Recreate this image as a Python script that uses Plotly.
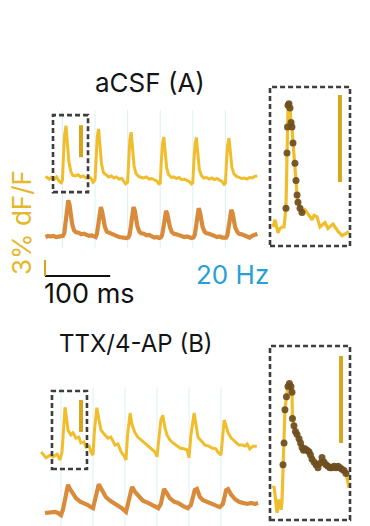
import plotly.graph_objects as go

W, H = 370, 526

# ---------------- data ----------------
stim_times_ms = [0, 50, 100, 150, 200, 250]  # 20 Hz stimulation

# aCSF (A) - voltage indicator trace (gold), dF/F in %
a_top_t = [-26, -23, -20, -17, -13, -9, -5, -2,
           0, 1.5, 3.5, 5.5, 7.5, 10, 13, 16, 20, 24, 28, 32, 36, 40, 44, 47,
           50, 51.5, 53.5, 55.5, 57.5, 60, 63, 67, 71, 75, 79, 83, 87, 91, 94, 97,
           100, 101.5, 103.5, 105.5, 107.5, 110, 113, 117, 121, 125, 129, 133, 137, 141, 145, 148,
           150, 151.5, 153.5, 155.5, 157.5, 160, 163, 167, 171, 175, 179, 183, 187, 191, 195, 198,
           200, 201.5, 203.5, 205.5, 207.5, 210, 213, 217, 221, 225, 229, 233, 237, 241, 245, 248,
           250, 251.5, 253.5, 255.5, 257.5, 260, 263, 267, 271, 275, 279, 283, 287, 291, 295, 299]
a_top_v = [0.3, 0.1, -0.2, 0.1, -0.3, 0.2, -0.6, -0.9,
           -0.5, 3.8, 8.2, 9.8, 6.8, 3.0, 1.2, 0.5, 0.4, 0.6, 0.2, 0.4, 0.0, 0.3, -0.1, -0.8,
           -0.4, 3.6, 7.8, 9.2, 6.2, 2.6, 1.0, 0.6, 0.2, 0.4, 0.0, 0.2, -0.2, -0.1, -0.6, -1.1,
           -0.8, 3.2, 7.3, 8.6, 5.8, 2.2, 0.8, 0.3, 0.1, 0.0, 0.2, -0.2, -0.1, -0.4, -0.6, -1.1,
           -1.0, 2.6, 6.3, 7.7, 5.0, 1.8, 0.6, 0.1, 0.2, -0.1, 0.1, -0.3, -0.2, -0.5, -0.7, -1.1,
           -0.9, 2.8, 6.4, 7.6, 5.0, 1.6, 0.5, 0.0, 0.1, -0.2, 0.0, -0.3, -0.1, -0.4, -0.7, -1.2,
           -1.0, 2.6, 6.2, 7.5, 5.2, 2.0, 0.8, 0.3, 0.1, -0.1, 0.0, -0.2, 0.1, 0.0, 0.3, 0.4]

# aCSF (A) - second trace (orange)
a_bot_t = [-26, -22, -18, -14, -10, -6, -2,
           1, 3, 5, 7, 9, 11, 13, 15, 18, 21, 25, 29, 33, 37, 41, 45, 48,
           51, 53, 55, 57, 59, 61, 63, 65, 68, 71, 75, 79, 83, 87, 91, 95, 98,
           101, 103, 105, 107, 109, 111, 113, 115, 118, 121, 125, 129, 133, 137, 141, 145, 148,
           151, 153, 155, 157, 159, 161, 163, 165, 168, 171, 175, 179, 183, 187, 191, 195, 198,
           201, 203, 205, 207, 209, 211, 213, 215, 218, 221, 225, 229, 233, 237, 241, 245, 248,
           251, 253, 255, 257, 259, 261, 263, 265, 268, 271, 275, 279, 283, 287, 291, 295, 299]
a_bot_v = [0.0, 0.2, 0.1, 0.2, 0.0, 0.1, 0.2,
           0.2, 0.8, 3.0, 5.6, 6.9, 6.0, 4.0, 2.4, 1.2, 0.9, 0.8, 0.5, 0.6, 0.3, 0.2, 0.3, 0.1,
           0.0, 0.6, 2.4, 4.6, 5.6, 4.8, 3.2, 2.0, 1.0, 0.8, 0.6, 0.4, 0.2, 0.0, -0.1, 0.0, -0.2,
           -0.1, 0.4, 2.0, 4.4, 5.6, 5.0, 3.4, 2.0, 1.0, 0.7, 0.6, 0.3, 0.4, 0.1, -0.1, 0.0, -0.2,
           -0.1, 0.4, 1.8, 3.8, 4.9, 4.3, 3.0, 1.8, 0.9, 0.6, 0.5, 0.3, 0.2, 0.0, 0.1, -0.1, -0.2,
           -0.1, 0.4, 2.0, 4.2, 5.4, 4.7, 3.2, 1.9, 1.0, 0.7, 0.6, 0.3, 0.2, 0.0, 0.1, -0.1, -0.1,
           -0.1, 0.3, 1.8, 4.0, 5.1, 4.5, 3.0, 1.8, 1.0, 0.6, 0.5, 0.3, 0.0, -0.1, 0.2, 0.5, 0.6]

# TTX/4-AP (B) - gold trace
b_top_t = [-31, -23.4, -17, -12.5, -6, -1.6, 1.6, 3.9, 6.3, 8.6, 11, 15.6, 18.8, 23.4, 28, 31, 36, 39, 44, 47,
           50, 52.3, 56, 59.4, 62.5, 67, 73.4, 78, 84.4, 89, 94, 98,
           101.6, 104, 108, 111, 115.6, 120, 125, 130, 134, 139, 144, 147,
           150, 153, 156, 159, 162.5, 165.6, 170, 175, 181, 186, 192, 197,
           200, 203, 208, 211, 214, 219, 225, 231, 236, 242, 245,
           250, 252, 255, 258, 261, 266, 272, 278, 283, 287.5, 291, 295, 300, 306]
b_top_v = [0, -1.1, -0.6, -0.9, -0.4, -1.5, 0, 5.1, 8.4, 6.4, 4.1, 3.2, 3.6, 2.6, 2.8, 1.7, 1.9, 0.9, 1.1, 0,
           -0.6, 4.1, 8.3, 6.0, 4.1, 3.4, 2.6, 2.8, 1.3, 1.5, 0, -0.6,
           -1.5, 3.2, 7.3, 5.1, 3.6, 2.8, 2.3, 1.7, 1.3, 0.75, 0.4, 0,
           -0.9, 2.3, 6.0, 6.9, 4.5, 3.2, 2.3, 1.7, 1.1, 0.75, 0.6, 0.4,
           -1.1, 3.2, 7.3, 5.1, 2.8, 2.1, 1.3, 1.1, 0.75, 0.6, 0,
           -0.6, 2.6, 6.0, 4.9, 3.6, 2.6, 1.9, 1.3, 1.3, 1.1, 1.5, 0.6, 1.1, 1.1]

# TTX/4-AP (B) - orange trace
b_bot_t = [-25, -17, -9.4, -4.7, 0, 3, 6.3, 11, 14, 19, 23.4, 30, 36, 42, 47, 50, 55, 59, 64, 70,
           77, 83, 89, 95, 101.6, 106, 111, 116, 122, 128, 136, 144, 152, 156, 161, 166, 170, 177, 183, 191,
           198, 203, 209, 212.5, 217, 222, 228, 234, 242, 248, 253, 258, 261, 266, 272, 278, 284, 291, 297, 303, 308]
b_bot_v = [0, 0.2, 0.2, 0, -0.4, 0.6, 3.0, 5.3, 4.5, 3.6, 2.8, 2.1, 1.9, 1.5, 1.1, 0.9, 3.4, 5.4, 4.3, 3.0,
           2.3, 1.9, 1.3, 0.9, 0.2, 2.8, 4.9, 3.9, 3.0, 2.3, 1.9, 1.3, 0.9, 1.7, 4.5, 3.6, 2.8, 2.1, 1.9, 1.3,
           0.9, 1.5, 4.3, 4.5, 3.0, 2.4, 2.1, 1.9, 1.3, 1.1, 1.7, 4.3, 4.5, 3.4, 2.6, 2.1, 1.9, 1.7, 1.9, 1.7, 1.9]

# Insets: first response, expanded
inset_a_t = [-7.3, -6, -4, -2.7, -1.3, 0, 1.3, 2, 2.3, 2.7, 3.3, 4, 4.7, 5.3, 6, 7.3, 8, 8.7, 9.3, 10.7,
             12, 14, 15.3, 17.3, 18.7, 20, 22, 24, 25.3, 27.3, 29.3, 30.7, 32.7, 34, 36, 38.7, 40.7, 42, 43.3]
inset_a_v = [0, 0.5, -0.4, -0.1, 0, 0, 1.3, 5.1, 6.9, 8.4, 8.5, 8.2, 7.2, 6.9, 5.8, 4.4, 3.2, 2.2, 1.7, 1.3,
             1.0, 1.2, 1.0, 0.7, 0.5, 0.8, 0.7, 0, 0.1, 0.3, -0.1, 0, 0.2, 0, -0.3, -0.6, -0.5, -0.4, -0.3]
inset_a_frames_ms = (1.0, 12.5)   # frames marked with dots

inset_b_t = [-6.7, -6, -4.7, -4, -2.7, -1.3, -0.7, 0, 0.7, 1.3, 2.3, 3.3, 4.3, 5.3, 6, 6.3, 7.3, 8.3, 9.3, 10.7,
             11.7, 12.7, 13.7, 14.7, 16, 17.3, 18.3, 19.3, 20.7, 22, 23.3, 24.7, 26, 27.3, 28.7, 30, 31.3, 32.7,
             34, 35.3, 36.7, 38, 39.3, 40.7, 42, 43, 44]
inset_b_v = [0, 0.1, -1.0, -1.7, -0.8, -1.5, -1.0, 1.6, 3.1, 5.4, 6.3, 7.0, 7.2, 7.0, 6.6, 4.8, 4.3, 3.9, 3.7, 3.4,
             3.1, 2.8, 2.6, 2.7, 2.6, 2.5, 2.3, 2.0, 1.8, 1.6, 1.4, 1.7, 2.1, 1.8, 1.6, 1.5, 1.4, 1.4,
             1.5, 1.4, 1.5, 1.4, 1.3, 1.2, 1.0, 0.4, 0]
inset_b_frames_ms = (0.0, 42.5)

scale_dff = 6          # % dF/F scale bar near traces and in insets
scale_small_dff = 3    # % dF/F, bottom-left bar
scale_time_ms = 100

# ---------------- layout / styles ----------------
GOLD = '#F0BE2C'
ORANGE = '#D98B3C'
BAR_GOLD = '#D6A51B'
DOT = '#6E4D20'
BOX = '#3d3d3d'
STIM = '#DDEFF5'
FONT = 'Inter, Roboto, sans-serif'

# pixel boxes & mapping (origin pixel of t=0 / value=0, pixels per unit)
panels = {
    'A_top': dict(n=1, box=(40, 262, 100, 195), xo=62.4, xs=0.652, yo=178, ys=5.33),
    'A_bot': dict(n=2, box=(40, 262, 195, 285), xo=62.4, xs=0.652, yo=237, ys=5.33),
    'B_top': dict(n=3, box=(40, 262, 380, 475), xo=61.0, xs=0.64, yo=452, ys=5.33),
    'B_bot': dict(n=4, box=(40, 262, 475, 526), xo=61.0, xs=0.64, yo=513, ys=5.33),
    'A_in': dict(n=5, box=(262, 360, 80, 255), xo=284, xs=1.5, yo=227, ys=14.5),
    'B_in': dict(n=6, box=(262, 360, 336, 526), xo=283, xs=1.5, yo=488, ys=14.5),
}

def sfx(n):
    return '' if n == 1 else str(n)

layout_axes = {}
for name, p in panels.items():
    n = p['n']
    px0, px1, py0, py1 = p['box']
    s = sfx(n)
    layout_axes['xaxis' + s] = dict(domain=[px0 / W, px1 / W],
                                    range=[(px0 - p['xo']) / p['xs'], (px1 - p['xo']) / p['xs']],
                                    visible=False, fixedrange=True, anchor='y' + s)
    layout_axes['yaxis' + s] = dict(domain=[max(0, 1 - py1 / H), 1 - py0 / H],
                                    range=[(p['yo'] - py1) / p['ys'], (p['yo'] - py0) / p['ys']],
                                    visible=False, fixedrange=True, anchor='x' + s)

fig = go.Figure()

def add_line(panel, x, y, color, width):
    s = sfx(panels[panel]['n'])
    fig.add_trace(go.Scatter(x=x, y=y, mode='lines', xaxis='x' + s, yaxis='y' + s,
                             line=dict(color=color, width=width), hoverinfo='skip',
                             showlegend=False, cliponaxis=False))

add_line('A_top', a_top_t, a_top_v, GOLD, 3)
add_line('A_bot', a_bot_t, a_bot_v, ORANGE, 4.2)
add_line('B_top', b_top_t, b_top_v, GOLD, 3)
add_line('B_bot', b_bot_t, b_bot_v, ORANGE, 4.2)
add_line('A_in', inset_a_t, inset_a_v, GOLD, 3.2)
add_line('B_in', inset_b_t, inset_b_v, GOLD, 3.2)

def add_dots(panel, t, v, window):
    s = sfx(panels[panel]['n'])
    xs = [a for a, b in zip(t, v) if window[0] <= a <= window[1]]
    ys = [b for a, b in zip(t, v) if window[0] <= a <= window[1]]
    fig.add_trace(go.Scatter(x=xs, y=ys, mode='markers', xaxis='x' + s, yaxis='y' + s,
                             marker=dict(color=DOT, size=7, opacity=0.92, line=dict(width=0)),
                             hoverinfo='skip', showlegend=False, cliponaxis=False))

add_dots('A_in', inset_a_t, inset_a_v, inset_a_frames_ms)
add_dots('B_in', inset_b_t, inset_b_v, inset_b_frames_ms)

shapes = []
# stimulus markers (20 Hz)
for t in stim_times_ms:
    shapes.append(dict(type='line', xref='x', yref='paper', x0=t, x1=t,
                       y0=1 - 248 / H, y1=1 - 110 / H, line=dict(color=STIM, width=1), layer='below'))
    shapes.append(dict(type='line', xref='x3', yref='paper', x0=t, x1=t,
                       y0=0, y1=1 - 387 / H, line=dict(color=STIM, width=1), layer='below'))

dash = dict(color=BOX, width=2.6, dash='5px,3px')
# zoom windows on first response
shapes.append(dict(type='rect', xref='x', yref='y', x0=-14.4, x1=39.3, y0=-2.65, y1=11.8, line=dash))
shapes.append(dict(type='rect', xref='x3', yref='y3', x0=-14.1, x1=40.6, y0=-3.2, y1=11.45, line=dash))
shapes.append(dict(type='rect', xref='x5', yref='y5', x0=-9.33, x1=44.0, y0=-1.31, y1=9.66, line=dash))
shapes.append(dict(type='rect', xref='x6', yref='y6', x0=-8.67, x1=44.67, y0=-2.21, y1=9.79, line=dash))

# dF/F scale bars
bar = dict(color=BAR_GOLD, width=4)
shapes.append(dict(type='line', xref='x', yref='y', x0=28.5, x1=28.5, y0=3.9, y1=3.9 + scale_dff, line=bar))
shapes.append(dict(type='line', xref='x3', yref='y3', x0=31.3, x1=31.3, y0=3.75, y1=3.75 + scale_dff, line=bar))
shapes.append(dict(type='line', xref='x5', yref='y5', x0=37.3, x1=37.3, y0=3.1, y1=3.1 + scale_dff, line=bar))
shapes.append(dict(type='line', xref='x6', yref='y6', x0=38.7, x1=38.7, y0=3.1, y1=3.1 + scale_dff, line=bar))

# L-shaped scale bar (100 ms, 3 %)
sb_t0, sb_v0 = -26.7, -7.3
shapes.append(dict(type='line', xref='x2', yref='y2', x0=sb_t0, x1=sb_t0 + scale_time_ms,
                   y0=sb_v0, y1=sb_v0, line=dict(color='#111111', width=2)))
shapes.append(dict(type='line', xref='x2', yref='y2', x0=sb_t0, x1=sb_t0,
                   y0=sb_v0, y1=sb_v0 + scale_small_dff, line=dict(color=BAR_GOLD, width=2)))

annotations = [
    dict(text='aCSF (A)', x=150 / W, y=1 - 82 / H, font=dict(size=26, color='#141414', family=FONT)),
    dict(text='TTX/4-AP (B)', x=136 / W, y=1 - 343 / H, font=dict(size=24, color='#141414', family=FONT)),
    dict(text='3% dF/F', x=21 / W, y=1 - 223 / H, textangle=-90,
         font=dict(size=26, color='#E4B72C', family=FONT)),
    dict(text='100 ms', x=42 / W, y=1 - 293 / H, xanchor='left',
         font=dict(size=27, color='#111111', family=FONT)),
    dict(text='20 Hz', x=232 / W, y=1 - 274 / H, font=dict(size=26, color='#2A9FD6', family=FONT)),
]
for a in annotations:
    a.update(xref='paper', yref='paper', showarrow=False)
    a.setdefault('xanchor', 'center')
    a.setdefault('yanchor', 'middle')

fig.update_layout(width=W, height=H, margin=dict(l=0, r=0, t=0, b=0),
                  paper_bgcolor='white', plot_bgcolor='white',
                  shapes=shapes, annotations=annotations, showlegend=False,
                  **layout_axes)

fig.write_html('out.html', config={'displayModeBar': False, 'staticPlot': True},
               post_script="document.body.style.margin='0';document.body.style.overflow='hidden';")
